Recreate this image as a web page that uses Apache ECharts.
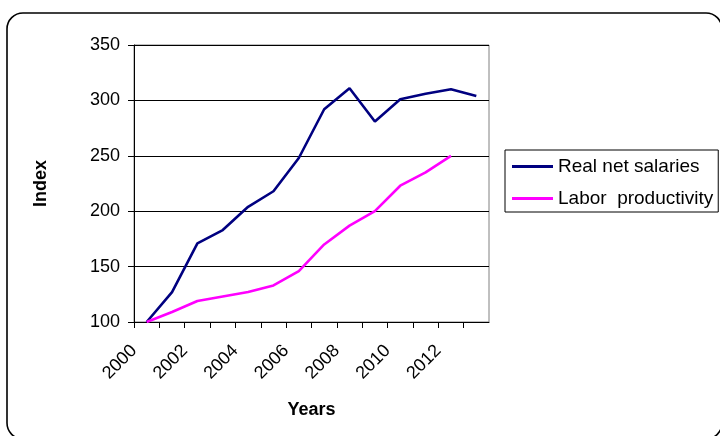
<!DOCTYPE html>
<html>
<head>
<meta charset="utf-8">
<script src="https://cdn.jsdelivr.net/npm/echarts@6/dist/echarts.min.js"></script>
<style>
  html, body { margin: 0; padding: 0; background: #fff; }
  #chart { width: 720px; height: 436px; }
</style>
</head>
<body>
<div id="chart"></div>
<script>
// Yearly observations, 2000 = 100
const years = ['2000', '2001', '2002', '2003', '2004', '2005', '2006',
               '2007', '2008', '2009', '2010', '2011', '2012', '2013'];
const realNetSalaries = [100, 127, 171, 183, 204, 218, 248, 292, 311, 281, 301, 306, 310, 304];
const laborProductivity = [100, 109, 119, 123, 127, 133, 146, 170, 187, 200, 223, 235, 250, null];

const yTicks = { min: 100, max: 350, step: 50 };
const yearAxis = { min: 2000, max: 2014, step: 1 };

const FONT = 'Arial, "Liberation Sans", sans-serif';

const chart = echarts.init(document.getElementById('chart'), null, { renderer: 'canvas' });

chart.setOption({
  backgroundColor: '#ffffff',
  animation: false,
  textStyle: { fontFamily: FONT, color: '#000' },
  graphic: [{
    type: 'rect',
    z: -1,
    shape: { x: 7, y: 13, width: 715, height: 426, r: 16 },
    style: { fill: 'none', stroke: '#000', lineWidth: 1.6 }
  }],
  grid: {
    left: 134, top: 45, width: 355, height: 277,
    show: true, borderColor: '#808080', borderWidth: 1, backgroundColor: 'transparent'
  },
  legend: {
    orient: 'vertical',
    left: 505, top: 150,
    padding: [7, 5, 4, 7],
    itemGap: 13,
    itemWidth: 41, itemHeight: 3,
    icon: 'rect',
    borderColor: '#000', borderWidth: 1,
    textStyle: { fontFamily: FONT, fontSize: 19, color: '#000' },
    data: ['Real net salaries', 'Labor  productivity']
  },
  xAxis: [{
    // places each year's point in the middle of its slot
    type: 'category',
    data: years,
    boundaryGap: true,
    show: false
  }, {
    // visible year scale with ticks on the slot boundaries
    type: 'value',
    min: yearAxis.min, max: yearAxis.max, interval: yearAxis.step,
    position: 'bottom',
    axisLine: { show: true, lineStyle: { color: '#000', width: 1 } },
    axisTick: { show: true, inside: false, length: 6, lineStyle: { color: '#000' } },
    splitLine: { show: false },
    axisLabel: {
      rotate: 45,
      margin: 26,
      fontFamily: FONT, fontSize: 18, color: '#000',
      showMaxLabel: false,
      formatter: v => (v % 2 === 0 ? String(v) : '')
    },
    name: 'Years',
    nameLocation: 'middle',
    nameGap: 79,
    nameTextStyle: { fontFamily: FONT, fontSize: 18, fontWeight: 'bold', color: '#000' }
  }],
  yAxis: {
    type: 'value',
    min: yTicks.min, max: yTicks.max, interval: yTicks.step,
    axisLine: { show: true, lineStyle: { color: '#000', width: 1 } },
    axisTick: { show: true, inside: false, length: 6, lineStyle: { color: '#000' } },
    splitLine: { show: true, lineStyle: { color: '#000', width: 1 } },
    axisLabel: { margin: 14, fontFamily: FONT, fontSize: 18, color: '#000' },
    name: 'Index',
    nameLocation: 'middle',
    nameGap: 84,
    nameRotate: 90,
    nameTextStyle: { fontFamily: FONT, fontSize: 18, fontWeight: 'bold', color: '#000' }
  },
  series: [{
    name: 'Real net salaries',
    type: 'line',
    xAxisIndex: 0,
    data: realNetSalaries,
    symbol: 'none',
    color: '#000080',
    lineStyle: { color: '#000080', width: 2.6 }
  }, {
    name: 'Labor  productivity',
    type: 'line',
    xAxisIndex: 0,
    data: laborProductivity,
    symbol: 'none',
    color: '#ff00ff',
    lineStyle: { color: '#ff00ff', width: 2.6 }
  }]
});
</script>
</body>
</html>
